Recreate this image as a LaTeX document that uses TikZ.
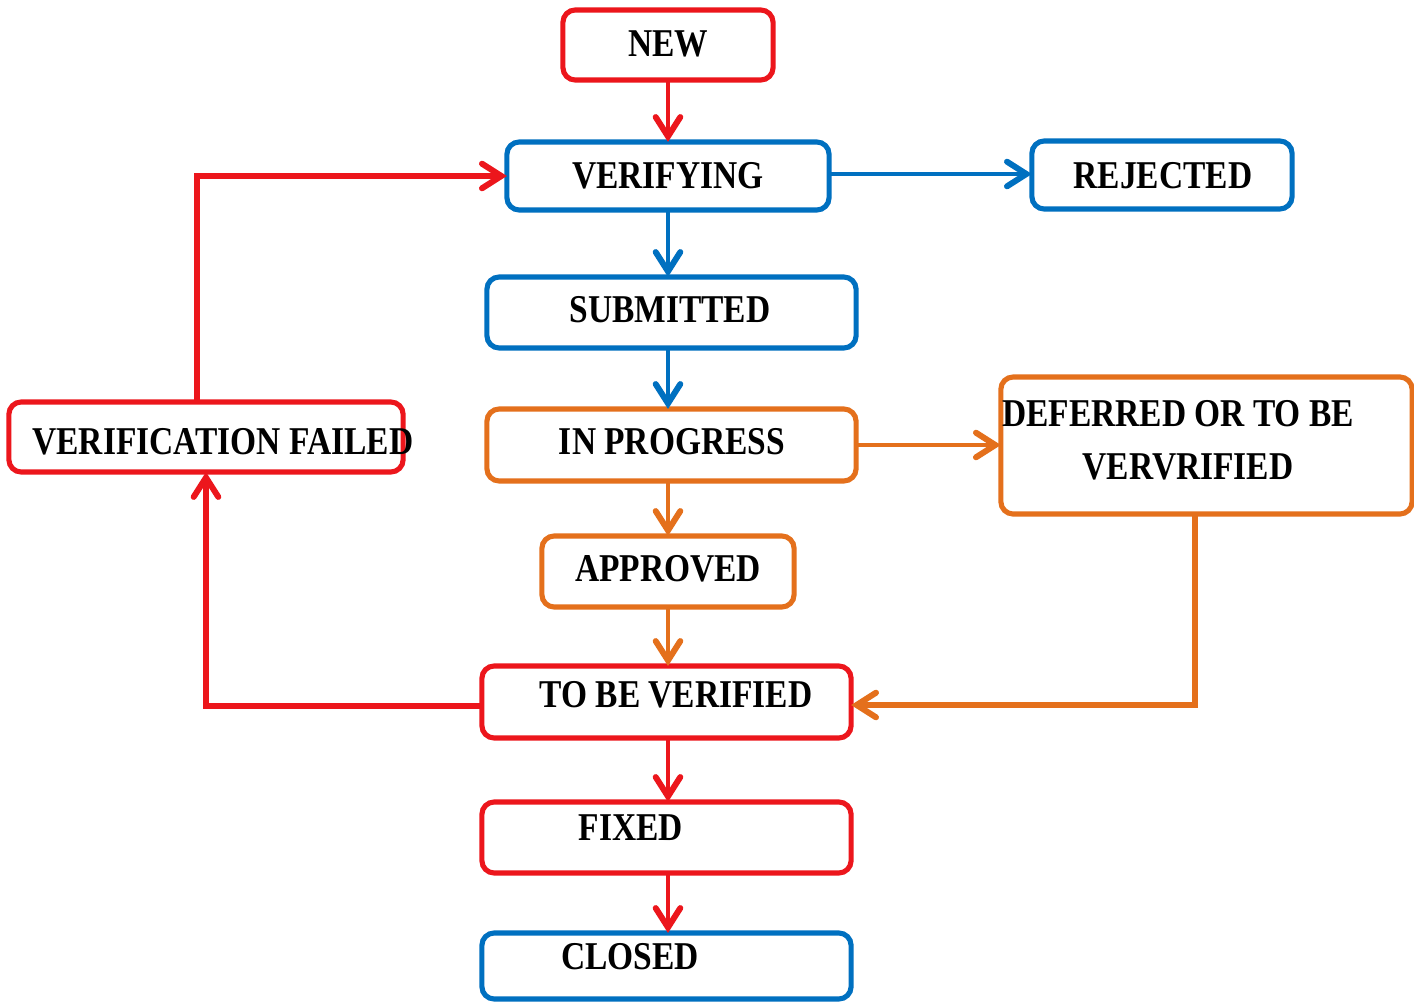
\documentclass[tikz,border=0pt]{standalone}
\usepackage{fontspec}
\setmainfont[FakeStretch=0.85]{Liberation Serif}
\usetikzlibrary{arrows.meta,calc}
\definecolor{bugred}{RGB}{236,22,28}
\definecolor{bugblue}{RGB}{0,112,192}
\definecolor{bugorange}{RGB}{228,112,28}
\begin{document}
\begin{tikzpicture}[x=0.01cm,y=-0.01cm,
  box/.style={draw=#1, line width=1.45pt, rounded corners=3.5pt, inner sep=0pt, outer sep=0pt},
  lbl/.style={anchor=base, inner sep=0pt, font=\bfseries\fontsize{11.2}{13}\selectfont, text=black},
  link/.style={draw=#1, line width=1.3pt, line join=miter,
    -{Straight Barb[length=5.5pt,width=7pt,line cap=round,line width=1.7pt]}},
  loop/.style={link=#1, line width=1.7pt},
]
% page
\fill[white] (0,0) rectangle (1414,1003);
\useasboundingbox (0,0) rectangle (1414,1003);

% state boxes
\node[box=bugred,    minimum width=2.10cm, minimum height=0.70cm] (new)        at (668,45)     {};
\node[box=bugblue,   minimum width=3.22cm, minimum height=0.68cm] (verifying)  at (668,176)    {};
\node[box=bugblue,   minimum width=2.60cm, minimum height=0.68cm] (rejected)   at (1162,175)   {};
\node[box=bugblue,   minimum width=3.69cm, minimum height=0.71cm] (submitted)  at (671.5,312.5){};
\node[box=bugorange, minimum width=3.69cm, minimum height=0.72cm] (inprogress) at (671.5,445)  {};
\node[box=bugorange, minimum width=4.11cm, minimum height=1.37cm] (deferred)   at (1206.5,445.5){};
\node[box=bugred,    minimum width=3.94cm, minimum height=0.70cm] (vfailed)    at (206,437)    {};
\node[box=bugorange, minimum width=2.52cm, minimum height=0.71cm] (approved)   at (668,571.5)  {};
\node[box=bugred,    minimum width=3.69cm, minimum height=0.72cm] (tbv)        at (666.5,702)  {};
\node[box=bugred,    minimum width=3.69cm, minimum height=0.71cm] (fixed)      at (666.5,837.5){};
\node[box=bugblue,   minimum width=3.69cm, minimum height=0.66cm] (closed)     at (666.5,966)  {};

% transitions
\draw[link=bugred]    (new.south) -- (verifying.north);
\draw[link=bugblue]   ($(verifying.east)+(0,-2)$) -- ($(verifying.east -| rejected.west)+(0,-2)$);
\draw[link=bugblue]   (verifying.south) -- (verifying.south |- submitted.north);
\draw[link=bugblue]   (submitted.south -| verifying.south) -- (verifying.south |- inprogress.north);
\draw[link=bugorange] (inprogress.east) -- (deferred.west |- inprogress.east);
\draw[link=bugorange] (inprogress.south -| verifying.south) -- (approved.north);
\draw[link=bugorange] (approved.south) -- (approved.south |- tbv.north);
\draw[loop=bugorange] ($(deferred.south)+(-11.5,0)$) |- ($(tbv.east)+(0,3)$);
\draw[loop=bugred]    ($(tbv.west)+(0,4)$) -| (vfailed.south);
\draw[loop=bugred]    ($(vfailed.north)+(-9,0)$) |- (verifying.west);
\draw[link=bugred]    (tbv.south -| verifying.south) -- (verifying.south |- fixed.north);
\draw[link=bugred]    (fixed.south -| verifying.south) -- (verifying.south |- closed.north);

% state names
\node[lbl] (tnew)  at (668,56)   {NEW};
\node[lbl] (tver)  at (668,188)  {VERIFYING};
\node[lbl] (trej)  at (1163,188) {REJECTED};
\node[lbl] (tsub)  at (670,322)  {SUBMITTED};
\node[lbl] (tinp)  at (672,454)  {IN PROGRESS};
\node[lbl] (tdef1) at (1178,426) {DEFERRED OR TO BE};
\node[lbl] (tdef2) at (1188,479) {VERVRIFIED};
\node[lbl] (tvf)   at (223,454)  {VERIFICATION FAILED};
\node[lbl] (tapp)  at (668,581)  {APPROVED};
\node[lbl] (ttbv)  at (676,707)  {TO BE VERIFIED};
\node[lbl] (tfix)  at (631,840)  {FIXED};
\node[lbl] (tclo)  at (630,969)  {CLOSED};
\end{tikzpicture}
\end{document}
